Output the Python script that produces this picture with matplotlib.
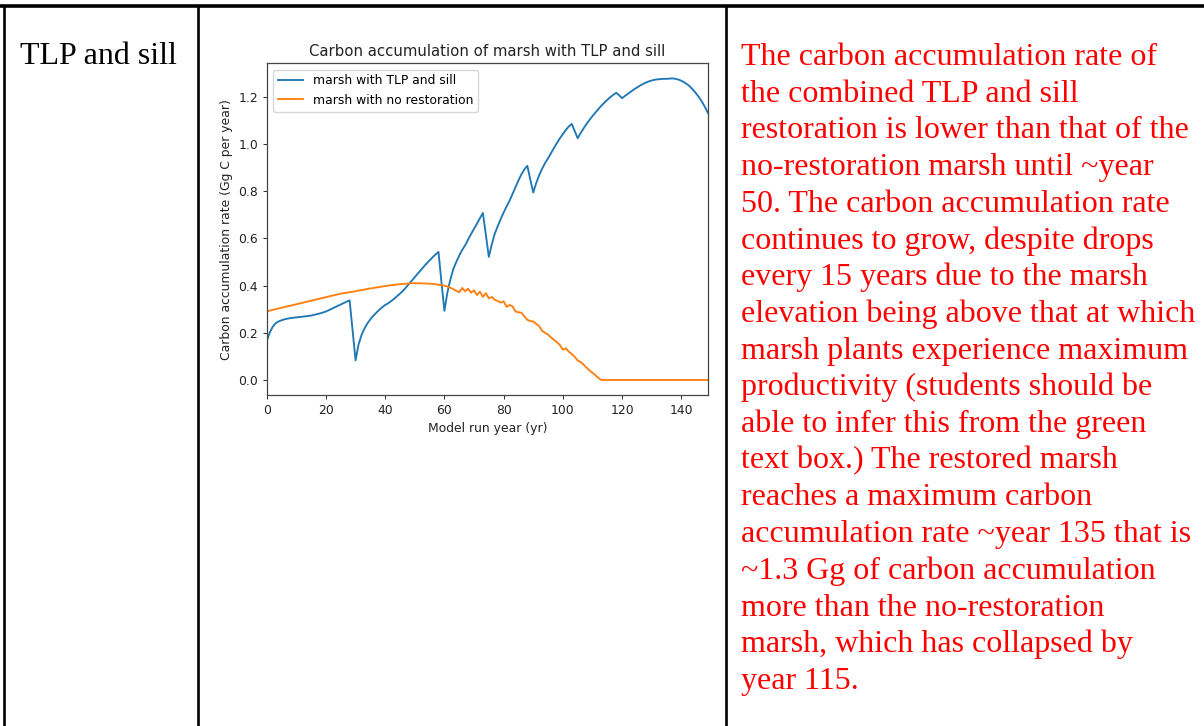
import numpy as np
import matplotlib
matplotlib.use('Agg')
from matplotlib import pyplot as plt

# model run years
years = np.arange(0, 150)

# carbon accumulation, marsh with TLP and sill (Gg C per year)
tlp_sill = [
    0.165, 0.200, 0.225, 0.240, 0.248, 0.253, 0.257, 0.260, 0.262, 0.264,
    0.265, 0.267, 0.268, 0.270, 0.271, 0.273, 0.276, 0.279, 0.282, 0.286,
    0.290, 0.296, 0.302, 0.308, 0.314, 0.320, 0.326, 0.332, 0.337, 0.210,
    0.083, 0.150, 0.190, 0.218, 0.240, 0.257, 0.272, 0.285, 0.297, 0.308,
    0.318, 0.325, 0.334, 0.344, 0.355, 0.366, 0.378, 0.392, 0.407, 0.421,
    0.436, 0.451, 0.465, 0.480, 0.494, 0.507, 0.520, 0.532, 0.543, 0.415,
    0.293, 0.370, 0.425, 0.470, 0.500, 0.527, 0.551, 0.571, 0.595, 0.619,
    0.641, 0.663, 0.686, 0.708, 0.615, 0.522, 0.575, 0.620, 0.652, 0.682,
    0.710, 0.736, 0.760, 0.789, 0.818, 0.846, 0.872, 0.893, 0.908, 0.850,
    0.795, 0.835, 0.868, 0.896, 0.920, 0.940, 0.962, 0.984, 1.005, 1.025,
    1.043, 1.060, 1.075, 1.086, 1.055, 1.025, 1.047, 1.067, 1.086, 1.103,
    1.119, 1.134, 1.149, 1.163, 1.176, 1.188, 1.199, 1.209, 1.218, 1.207,
    1.195, 1.205, 1.214, 1.223, 1.232, 1.240, 1.248, 1.255, 1.261, 1.266,
    1.270, 1.273, 1.275, 1.276, 1.277, 1.277, 1.278, 1.279, 1.277, 1.274,
    1.269, 1.262, 1.254, 1.243, 1.230, 1.215, 1.198, 1.179, 1.157, 1.132,
]

# carbon accumulation, marsh with no restoration
no_restoration = [
    0.290, 0.294, 0.297, 0.300, 0.303, 0.306, 0.309, 0.312, 0.315, 0.318,
    0.321, 0.324, 0.327, 0.330, 0.333, 0.336, 0.339, 0.342, 0.345, 0.348,
    0.351, 0.354, 0.357, 0.360, 0.363, 0.366, 0.368, 0.370, 0.372, 0.374,
    0.376, 0.379, 0.381, 0.383, 0.386, 0.388, 0.390, 0.392, 0.394, 0.396,
    0.398, 0.400, 0.402, 0.403, 0.405, 0.406, 0.407, 0.408, 0.409, 0.410,
    0.410, 0.410, 0.410, 0.409, 0.409, 0.408, 0.407, 0.406, 0.404, 0.402,
    0.400, 0.396, 0.391, 0.385, 0.378, 0.372, 0.390, 0.376, 0.387, 0.370,
    0.380, 0.360, 0.374, 0.352, 0.368, 0.346, 0.352, 0.340, 0.335, 0.328,
    0.333, 0.310, 0.318, 0.312, 0.290, 0.287, 0.285, 0.270, 0.255, 0.250,
    0.248, 0.238, 0.228, 0.208, 0.200, 0.192, 0.180, 0.170, 0.160, 0.148,
    0.128, 0.134, 0.120, 0.110, 0.098, 0.082, 0.076, 0.065, 0.052, 0.040,
    0.030, 0.020, 0.008, 0.0, 0.0, 0.0, 0.0, 0.0, 0.0, 0.0,
    0.0, 0.0, 0.0, 0.0, 0.0, 0.0, 0.0, 0.0, 0.0, 0.0,
    0.0, 0.0, 0.0, 0.0, 0.0, 0.0, 0.0, 0.0, 0.0, 0.0,
    0.0, 0.0, 0.0, 0.0, 0.0, 0.0, 0.0, 0.0, 0.0, 0.0,
]

row_label = 'TLP and sill'
answer_lines = [
    'The carbon accumulation rate of',
    'the combined TLP and sill',
    'restoration is lower than that of the',
    'no-restoration marsh until ~year',
    '50. The carbon accumulation rate',
    'continues to grow, despite drops',
    'every 15 years due to the marsh',
    'elevation being above that at which',
    'marsh plants experience maximum',
    'productivity (students should be',
    'able to infer this from the green',
    'text box.) The restored marsh',
    'reaches a maximum carbon',
    'accumulation rate ~year 135 that is',
    '~1.3 Gg of carbon accumulation',
    'more than the no-restoration',
    'marsh, which has collapsed by',
    'year 115.',
]

W, H = 1204, 726
fig = plt.figure(figsize=(W / 100, H / 100), dpi=100)

# page / table layer in pixel coordinates
bg = fig.add_axes([0, 0, 1, 1])
bg.set_xlim(0, W)
bg.set_ylim(H, 0)
bg.axis('off')
bg.plot([0, W], [5.5, 5.5], color='black', lw=2.6, solid_capstyle='butt')
for xv in [4.3, 198, 725.5]:
    bg.plot([xv, xv], [4.5, H], color='black', lw=1.9, solid_capstyle='butt')

serif = 'Liberation Serif'
bg.text(20.5, 64.5, row_label, fontsize=23.0, family=serif, va='baseline', color='black')
for i, line in enumerate(answer_lines):
    bg.text(741, 65 + i * 36.7, line, fontsize=23.0, family=serif,
            va='baseline', color='red')

# the chart
s = 0.895
ax = fig.add_axes([266.7 / W, (H - 395) / H, 441.3 / W, 331.7 / H])
ax.plot(years, tlp_sill, label='marsh with TLP and sill', lw=1.5 * s)
ax.plot(years, no_restoration, label='marsh with no restoration', lw=1.5 * s)
ax.set_xlim(0, 149)
ax.set_title('Carbon accumulation of marsh with TLP and sill', fontsize=12 * s,
             pad=6 * s, color='#222222')
ax.set_xlabel('Model run year (yr)', fontsize=10 * s, labelpad=4 * s, color='#222222')
ax.set_ylabel('Carbon accumulation rate (Gg C per year)', fontsize=10 * s,
              labelpad=4 * s, color='#222222')
ax.tick_params(labelsize=10 * s, length=3.5 * s, width=0.8 * s, pad=3.5 * s,
               colors='#333333', labelcolor='#222222')
for sp in ax.spines.values():
    sp.set_color('#444444')
    sp.set_linewidth(0.9)
ax.legend(loc='upper left', fontsize=10 * s)

plt.savefig('out.png', dpi=100)
